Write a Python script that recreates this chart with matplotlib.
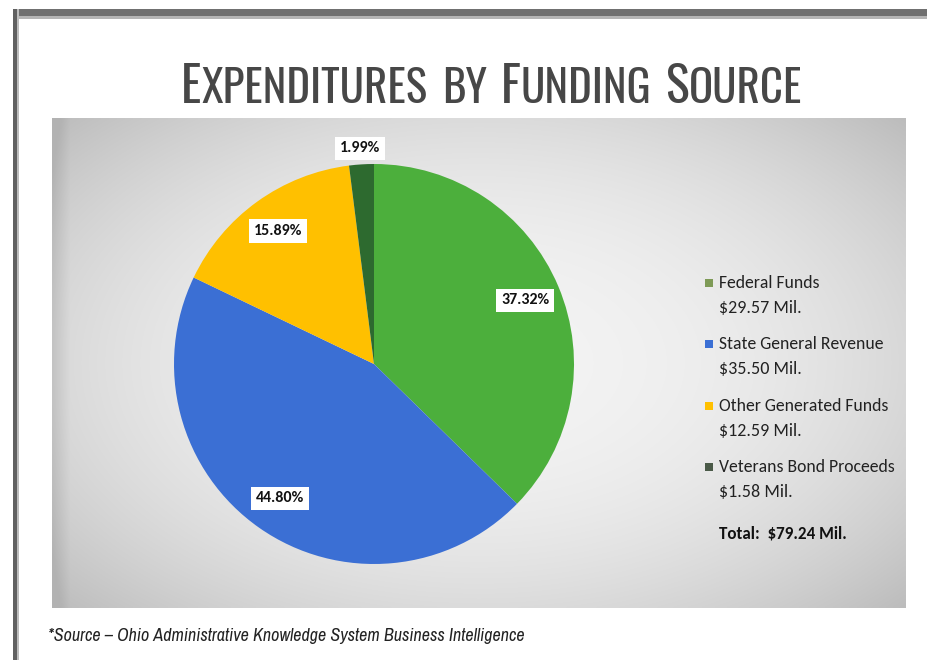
import numpy as np
import matplotlib
matplotlib.use("Agg")
import matplotlib.pyplot as plt
from matplotlib.patches import Rectangle

categories = ["Federal Funds", "State General Revenue", "Other Generated Funds", "Veterans Bond Proceeds"]
values_mil = [29.57, 35.50, 12.59, 1.58]
total_mil = 79.24
colors = ["#4caf3c", "#3b6fd4", "#ffc000", "#2d6a2f"]
legend_colors = ["#7e9a56", "#3b6fd4", "#ffc000", "#4a5a48"]
title_words = ["Expenditures", "by", "Funding", "Source"]
source = "*Source \u2013 Ohio Administrative Knowledge System Business Intelligence"

TITLE_FONT = ["Saira Extra Condensed", "Oswald", "Barlow Condensed"]
BODY_FONT = ["Carlito", "Lato", "DejaVu Sans"]
SRC_FONT = ["Archivo Narrow", "Liberation Sans Narrow", "Liberation Sans"]

W, H = 927, 660
fig = plt.figure(figsize=(W / 100, H / 100), dpi=100)
fig.patch.set_facecolor("white")
renderer = fig.canvas.get_renderer()

bg = fig.add_axes([0, 0, 1, 1])
bg.set_xlim(0, W)
bg.set_ylim(H, 0)
bg.axis("off")

# frame
bg.add_patch(Rectangle((15, 9), W - 15, 7, color="#707070", lw=0))
bg.add_patch(Rectangle((15, 16), W - 15, 3, color="#b5b5b5", lw=0))
bg.add_patch(Rectangle((13, 9), 4, H - 9, color="#606060", lw=0))
bg.add_patch(Rectangle((17, 9), 2, H - 9, color="#bcbcbc", lw=0))

# gradient panel
px0, px1, py0, py1 = 52, 906, 118, 608
nx, ny = 300, 180
xx, yy = np.meshgrid(np.linspace(-1, 1, nx), np.linspace(-1, 1, ny))
r = np.sqrt((xx * 0.95) ** 2 + (yy * 0.9) ** 2)
g = 0.955 - 0.12 * np.clip(r, 0, 1.4) ** 2.2
g = g - 0.08 * np.clip((-xx - 0.96) / 0.04, 0, 1)
g = np.clip(g, 0.70, 0.96)
img = np.dstack([g, g, g])
bg.imshow(img, extent=(px0, px1, py1, py0), aspect="auto", interpolation="bilinear", zorder=1)


def width_px(t):
    return t.get_window_extent(renderer).width


def fit_text(x, y, s, target_w, size0, **kw):
    t = bg.text(x, y, s, fontsize=size0, **kw)
    w = width_px(t)
    if w > 0:
        t.set_fontsize(size0 * target_w / w)
    return t


# ---- Title in small caps ----
big_pt, small_pt = 40.0, 36.0
pieces = []
for wd in title_words:
    first, rest = wd[0], wd[1:].upper()
    if first.isupper():
        pieces.append((first, big_pt))
        pieces.append((rest, small_pt))
    else:
        pieces.append((wd.upper(), small_pt))
    pieces.append((None, None))
pieces = pieces[:-1]


def layout_title(scale):
    arts = []
    x = 0.0
    for s, sz in pieces:
        if s is None:
            x += 16 * scale
            continue
        t = bg.text(x, 103, s, fontsize=sz * scale, family=TITLE_FONT, weight="semibold",
                    color="#474747", ha="left", va="baseline", zorder=5)
        arts.append(t)
        x += width_px(t)
    return arts, x

arts, total = layout_title(1.0)
scale = 621 / total
for a in arts:
    a.remove()
arts, total = layout_title(scale)
x0 = 492 - total / 2
for a in arts:
    px, py = a.get_position()
    a.set_position((px + x0, py))

# Source
fit_text(48, 636, source, 477, 10.5, ha="left", va="center", fontstyle="italic",
         family=SRC_FONT, color="#222222", zorder=5)

# Pie
cx, cy, rad = 374, 364, 200
ax = fig.add_axes([(cx - rad) / W, 1 - (cy + rad) / H, (2 * rad) / W, (2 * rad) / H])
ax.set_facecolor("none")
wedges, texts, autotexts = ax.pie(
    values_mil, colors=colors, startangle=90, counterclock=False,
    autopct="%.2f%%", pctdistance=0.82, radius=1,
    wedgeprops=dict(linewidth=0),
    textprops=dict(fontsize=11.5, fontweight="bold", color="#111111", family=BODY_FONT),
)
ax.set_xlim(-1, 1)
ax.set_ylim(-1, 1)
ax.set_aspect("equal")
for t in autotexts:
    t.set_bbox(dict(boxstyle="square,pad=0.3", fc="white", ec="none"))
w = wedges[-1]
mid = np.deg2rad((w.theta1 + w.theta2) / 2)
autotexts[-1].set_position((1.09 * np.cos(mid), 1.08 * np.sin(mid)))

# Legend
ly = [283, 344, 406, 467]
t0 = bg.text(719, ly[0], categories[0], fontsize=11, family=BODY_FONT)
fs_leg = 11 * 100 / width_px(t0)
t0.remove()
t1 = bg.text(719, ly[0], f"${values_mil[0]:.2f} Mil.", fontsize=11, family=BODY_FONT)
fs_val = 11 * 83 / width_px(t1)
t1.remove()
for i, (cat, val) in enumerate(zip(categories, values_mil)):
    bg.add_patch(Rectangle((705, ly[i] - 4), 8, 8, color=legend_colors[i], lw=0, zorder=3))
    bg.text(719, ly[i], cat, ha="left", va="center", fontsize=fs_leg, family=BODY_FONT,
            color="#222222", zorder=3)
    bg.text(719, ly[i] + 25, f"${val:.2f} Mil.", ha="left", va="center", fontsize=fs_val,
            family=BODY_FONT, color="#222222", zorder=3)
fit_text(719, 534, f"Total:  ${total_mil:.2f} Mil.", 128, 11, ha="left", va="center",
         family=BODY_FONT, fontweight="bold", color="#111111", zorder=3)

fig.savefig("out.png", dpi=100)
